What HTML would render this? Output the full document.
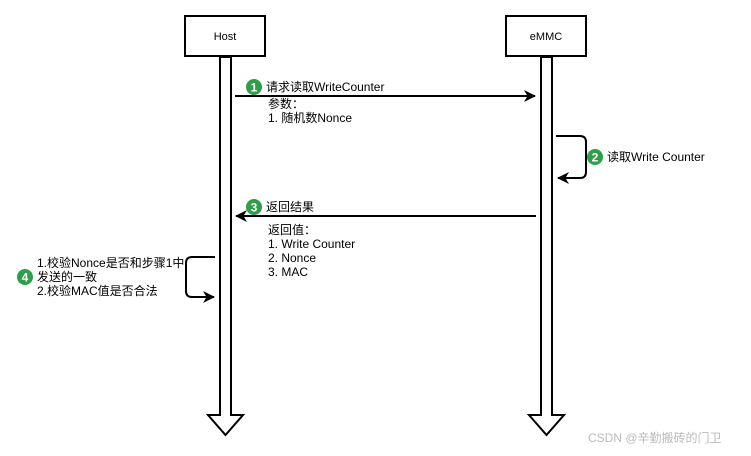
<!DOCTYPE html>
<html><head><meta charset="utf-8"><style>
html,body{margin:0;padding:0;background:#fff;}
svg text{font-family:"Liberation Sans","Noto Sans CJK SC",sans-serif;font-size:12px;fill:#000;}
</style></head><body>
<svg width="751" height="451" viewBox="0 0 751 451" xmlns="http://www.w3.org/2000/svg">
<defs>
<marker id="ah" markerWidth="12" markerHeight="12" refX="11" refY="6" orient="auto" markerUnits="userSpaceOnUse">
<path d="M0,0 L12,6 L0,12 L3.5,6 Z" fill="#000"/>
</marker>
</defs>
<g fill="#fff" stroke="#000" stroke-width="2">
<rect x="185" y="16" width="80" height="40"/>
<rect x="506" y="16" width="80" height="40"/>
<path d="M220,57 L220,415 L208,415 L225.5,435 L243,415 L231,415 L231,57 Z"/>
<path d="M541,57 L541,415 L529,415 L546.5,435 L564,415 L552,415 L552,57 Z"/>
</g>
<text x="225" y="40" text-anchor="middle" style="font-size:11px">Host</text>
<text x="546" y="40" text-anchor="middle" style="font-size:11px">eMMC</text>

<g stroke="#000" stroke-width="2" fill="none">
<line x1="235" y1="96" x2="535" y2="96" marker-end="url(#ah)"/>
<path d="M556,136 L580,136 Q586,136 586,142 L586,172 Q586,178 580,178 L558,178" marker-end="url(#ah)"/>
<line x1="536" y1="216" x2="236" y2="216" marker-end="url(#ah)"/>
<path d="M215,257 L192,257 Q186,257 186,263 L186,291 Q186,297 192,297 L214,297" marker-end="url(#ah)"/>
</g>

<g fill="#2e9e48">
<circle cx="254" cy="87" r="8"/>
<circle cx="595" cy="157" r="8"/>
<circle cx="254" cy="207" r="8"/>
<circle cx="25" cy="277" r="8"/>
</g>
<text x="254" y="91.5" text-anchor="middle" style="fill:#fff;font-weight:bold">1</text>
<text x="595" y="161.5" text-anchor="middle" style="fill:#fff;font-weight:bold">2</text>
<text x="254" y="211.5" text-anchor="middle" style="fill:#fff;font-weight:bold">3</text>
<text x="25" y="281.5" text-anchor="middle" style="fill:#fff;font-weight:bold">4</text>

<text x="266" y="91">请求读取WriteCounter</text>
<text x="268" y="108">参数：</text>
<text x="268" y="122">1. 随机数Nonce</text>
<text x="607" y="161">读取Write Counter</text>
<text x="266" y="211">返回结果</text>
<text x="268" y="234">返回值：</text>
<text x="268" y="248">1. Write Counter</text>
<text x="268" y="262">2. Nonce</text>
<text x="268" y="276">3. MAC</text>
<text x="37" y="267">1.校验Nonce是否和步骤1中</text>
<text x="37" y="281">发送的一致</text>
<text x="37" y="295">2.校验MAC值是否合法</text>
<text x="588" y="442" style="fill:#bbb;font-size:12px">CSDN @辛勤搬砖的门卫</text>
</svg>
</body></html>
